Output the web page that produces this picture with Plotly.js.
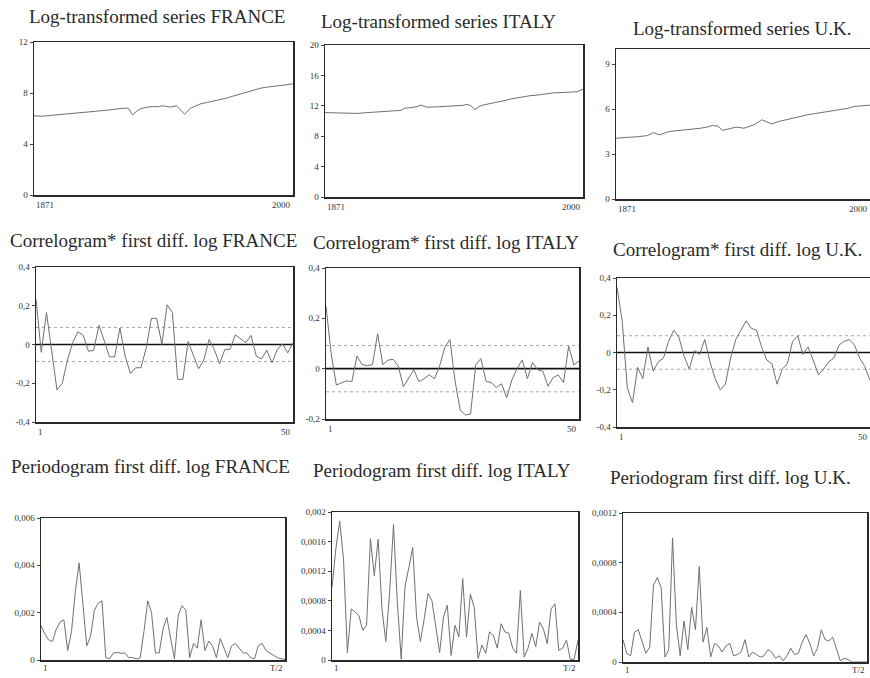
<!DOCTYPE html>
<html><head><meta charset="utf-8">
<script src="https://cdn.plot.ly/plotly-3.0.1.min.js"></script>
<style>html,body{margin:0;padding:0;background:#fff}#chart{width:870px;height:678px}</style>
</head><body><div id="chart"></div>
<script>
// ---------- DATA ----------
const countries = ['FRANCE', 'ITALY', 'U.K.'];

// Log-transformed series (year, value)
const franceYears = [1871,1875,1880,1884,1887,1892,1897,1901,1904,1908,1912,1915,1918,1920,1922,1924,1927,1930,1933,1935,1937,1939,1942,1944,1946,1949,1951,1954,1957,1960,1964,1967,1970,1974,1977,1980,1984,1987,1990,1994,1997,2000];
const franceLog   = [6.21,6.18,6.25,6.3,6.37,6.42,6.5,6.55,6.6,6.66,6.76,6.8,6.81,6.29,6.55,6.76,6.88,6.94,6.92,7.0,6.95,6.89,7.0,6.7,6.34,6.81,6.95,7.15,7.25,7.34,7.48,7.6,7.75,7.94,8.1,8.25,8.38,8.46,8.5,8.57,8.65,8.72];
const italyYears  = [1871,1876,1881,1887,1892,1897,1901,1904,1907,1909,1911,1914,1917,1919,1922,1925,1929,1933,1937,1940,1942,1944,1946,1948,1950,1954,1957,1961,1964,1967,1970,1974,1977,1981,1985,1990,1994,1997,2000];
const italyLog    = [11.1,11.05,11.0,11.0,11.1,11.2,11.25,11.3,11.35,11.4,11.7,11.75,11.9,12.1,11.8,11.85,11.9,11.95,12.0,12.05,12.2,12.0,11.5,11.9,12.1,12.3,12.4,12.7,12.9,13.05,13.2,13.35,13.4,13.55,13.7,13.75,13.8,13.85,14.2];
const ukYears     = [1871,1874,1878,1882,1887,1890,1893,1898,1902,1907,1911,1914,1918,1920,1923,1925,1929,1932,1936,1941,1945,1948,1950,1954,1958,1963,1968,1973,1978,1982,1985,1989,1992,1996,2000];
const ukLog       = [4.05,4.1,4.12,4.15,4.23,4.43,4.28,4.5,4.55,4.61,4.66,4.72,4.82,4.9,4.85,4.57,4.7,4.79,4.72,4.94,5.28,5.1,5.01,5.18,5.32,5.45,5.61,5.72,5.83,5.88,5.95,6.05,6.17,6.2,6.26];

// Correlograms, lags 1..50
const franceAcf = [0.235,-0.04,0.165,-0.05,-0.235,-0.2,-0.08,0.01,0.066,0.047,-0.035,-0.03,0.1,0.02,-0.064,-0.064,0.085,-0.06,-0.15,-0.12,-0.12,-0.02,0.135,0.135,0.0,0.205,0.165,-0.18,-0.18,0.015,-0.06,-0.125,-0.08,0.026,-0.026,-0.1,-0.026,-0.024,0.05,0.03,0.01,0.047,-0.06,-0.075,-0.03,-0.095,-0.026,0.003,-0.043,0.009];
const italyAcf  = [0.248,0.06,-0.065,-0.055,-0.048,-0.052,0.05,0.016,0.012,0.016,0.139,0.016,0.034,0.037,0.01,-0.072,-0.038,-0.004,-0.052,-0.04,-0.024,-0.04,0.01,0.084,0.116,-0.05,-0.165,-0.184,-0.18,0.016,0.04,-0.05,-0.055,-0.075,-0.06,-0.115,-0.045,0.0,0.035,-0.04,0.025,-0.005,-0.01,-0.07,-0.035,-0.025,-0.055,0.09,0.015,0.03];
const ukAcf     = [0.35,0.17,-0.19,-0.27,-0.08,-0.14,0.03,-0.1,-0.05,-0.03,0.06,0.12,0.08,-0.02,-0.09,0.01,-0.01,0.07,-0.05,-0.14,-0.2,-0.17,-0.03,0.07,0.12,0.17,0.13,0.12,0.03,-0.04,-0.06,-0.17,-0.09,-0.06,0.06,0.09,-0.01,0.03,-0.04,-0.12,-0.09,-0.05,-0.03,0.04,0.06,0.07,0.04,-0.03,-0.075,-0.15];
const confBand  = [0.088, 0.092, 0.09];   // dotted significance bands (+/-)

// Periodograms, frequencies 1..T/2
const francePer = [0.00146,0.0011,0.00085,0.00078,0.0013,0.0016,0.0017,0.0004,0.0012,0.0029,0.0041,0.0022,0.0006,0.001,0.0021,0.0024,0.0025,0.0001,0.00005,0.0003,0.00032,0.00028,0.0003,0.0001,0.0001,0.00005,0.00008,0.0012,0.0025,0.002,0.0003,0.0003,0.0013,0.0018,0.0009,0.00005,0.0019,0.0023,0.0021,0.0001,0.0007,0.0005,0.0017,0.0004,0.0008,0.0006,0.0001,0.0009,0.0005,0.0001,0.0006,0.0007,0.0005,0.0003,0.0003,0.0001,0.00005,0.0006,0.0007,0.0004,0.0003,0.0002,0.0001,0.00005,0.00003];
const italyPer  = [0.00098,0.0015,0.00188,0.00136,0.0001,0.00069,0.00065,0.0006,0.0004,0.00047,0.00164,0.00114,0.00163,0.00069,0.00025,0.00092,0.00183,0.00078,0.00001,0.001,0.00125,0.00152,0.00058,0.00025,0.00056,0.0009,0.0008,0.00042,0.0001,0.00058,0.00074,0.00006,0.00047,0.00031,0.0011,0.00031,0.00089,0.00071,0.00002,0.0002,0.00009,0.00038,0.00033,0.00016,0.00049,0.00038,0.00036,0.00016,0.00009,0.00094,0.00004,0.00016,0.00036,0.00018,0.00051,0.00042,0.00022,0.00069,0.00076,0.00013,0.00016,0.00027,0.00001,0.00001,0.00027];
const ukPer     = [0.00018,0.00007,0.00005,0.00024,0.00026,0.00017,0.00007,0.00012,0.00062,0.00068,0.0006,0.00004,0.0001,0.001,0.0003,0.00005,0.00033,0.0001,0.00044,0.00026,0.00077,0.00016,0.00028,0.00004,0.00015,0.00013,0.00008,0.00013,0.00015,0.00005,0.00006,0.00008,0.00018,0.00004,0.00008,0.00006,0.00004,0.00005,0.0001,0.00008,0.00003,0.00005,0.00001,0.00005,0.00011,0.00006,0.00007,0.00016,0.00022,0.00015,0.00005,0.00011,0.00026,0.00018,0.00017,0.0002,0.00011,0.00001,0.00003,0.00002,0,0,0,0,0];

// Tick labels
const logTicks = [[0,4,8,12],[0,4,8,12,16,20],[0,3,6,9]];
const logRanges = [[0,12],[0,20],[0,10]];
const acfTicks = [[-0.4,-0.2,0,0.2,0.4],[-0.2,0,0.2,0.4],[-0.4,-0.2,0,0.2,0.4]];
const acfText  = [['-0,4','-0,2','0','0,2','0,4'],['-0,2','0','0,2','0,4'],['-0,4','-0,2','0','0,2','0,4']];
const acfRanges = [[-0.4,0.4],[-0.2,0.4],[-0.4,0.4]];
const perTicks = [[0,0.002,0.004,0.006],[0,0.0004,0.0008,0.0012,0.0016,0.002],[0,0.0004,0.0008,0.0012]];
const perText  = [['0','0,002','0,004','0,006'],['0','0,0004','0,0008','0,0012','0,0016','0,002'],['0','0,0004','0,0008','0,0012']];
const perRanges = [[0,0.006],[0,0.002],[0,0.0012]];
const logXLabels = ['1871','2000'];
const acfXLabels = ['1','50'];
const perXLabels = ['1','T/2'];

// ---------- LAYOUT GEOMETRY (pixels) ----------
const W = 870, H = 678;
const boxes = [
  [34,293,42,195],[325,583,45,197],[616,870,49,199],
  [36,293,267,422],[326,579,268,419],[617,870,278,427],
  [41,285,518,660],[332,578,512,660],[623,867,513,662]
];
const titles = [
  ['Log-transformed series FRANCE',157,17],['Log-transformed series ITALY',438,21],['Log-transformed series U.K.',742,28],
  ['Correlogram* first diff. log FRANCE',153,240],['Correlogram* first diff. log ITALY',446,242],['Correlogram* first diff. log U.K.',737,249],
  ['Periodogram first diff. log FRANCE',150,466],['Periodogram first diff. log ITALY',442,470],['Periodogram first diff. log U.K.',730,477]
];

const SERIF = '"Liberation Serif", "Times New Roman", serif';
const lineCol = '#707070';
const tickFont = {family: SERIF, size: 9, color: '#333'};

const traces = [];
const layout = {
  width: W, height: H, margin: {l:0,r:0,t:0,b:0},
  paper_bgcolor: '#fff', plot_bgcolor: '#fff', showlegend: false,
  annotations: []
};

const logX = [franceYears, italyYears, ukYears];
const logY = [franceLog, italyLog, ukLog];
const acfY = [franceAcf, italyAcf, ukAcf];
const perY = [francePer, italyPer, ukPer];

function idx(arr){ return arr.map((_, i) => i + 1); }

for (let p = 0; p < 9; p++) {
  const n = p + 1;
  const xa = n === 1 ? 'x' : 'x' + n, ya = n === 1 ? 'y' : 'y' + n;
  const row = Math.floor(p / 3), col = p % 3;
  const b = boxes[p];
  let xr, tv, tt, yr, xl;
  if (row === 0) {
    traces.push({x: logX[col], y: logY[col], xaxis: xa, yaxis: ya, mode: 'lines', line: {color: lineCol, width: 1}});
    xr = [logX[col][0], logX[col][logX[col].length - 1]];
    tv = logTicks[col]; tt = logTicks[col].map(String); yr = logRanges[col]; xl = logXLabels;
  } else if (row === 1) {
    const lags = idx(acfY[col]);
    xr = [1, lags.length];
    traces.push({x: xr, y: [confBand[col], confBand[col]], xaxis: xa, yaxis: ya, mode: 'lines', line: {color: '#a8a8a8', width: 1, dash: 'dot'}});
    traces.push({x: xr, y: [-confBand[col], -confBand[col]], xaxis: xa, yaxis: ya, mode: 'lines', line: {color: '#a8a8a8', width: 1, dash: 'dot'}});
    traces.push({x: xr, y: [0, 0], xaxis: xa, yaxis: ya, mode: 'lines', line: {color: '#111', width: 1.6}});
    traces.push({x: lags, y: acfY[col], xaxis: xa, yaxis: ya, mode: 'lines', line: {color: lineCol, width: 1}});
    tv = acfTicks[col]; tt = acfText[col]; yr = acfRanges[col]; xl = acfXLabels;
  } else {
    const k = idx(perY[col]);
    xr = [1, k.length];
    traces.push({x: k, y: perY[col], xaxis: xa, yaxis: ya, mode: 'lines', line: {color: lineCol, width: 1}});
    tv = perTicks[col]; tt = perText[col]; yr = perRanges[col]; xl = perXLabels;
  }
  const xkey = n === 1 ? 'xaxis' : 'xaxis' + n, ykey = n === 1 ? 'yaxis' : 'yaxis' + n;
  layout[xkey] = {
    domain: [b[0] / W, b[1] / W], range: xr, anchor: ya,
    showline: true, mirror: true, linecolor: '#2a2a2a', linewidth: 1.5,
    showgrid: false, zeroline: false, showticklabels: false, ticks: '', fixedrange: true
  };
  layout[ykey] = {
    domain: [1 - b[3] / H, 1 - b[2] / H], range: yr, anchor: xa,
    showline: true, mirror: true, linecolor: '#2a2a2a', linewidth: 1.5,
    showgrid: false, zeroline: false, tickvals: tv, ticktext: tt,
    ticks: 'outside', ticklen: 3, tickcolor: '#444', tickwidth: 1,
    tickfont: tickFont, fixedrange: true
  };
  const ys = row === 2 ? -1 : -3;
  layout.annotations.push({xref: xa, yref: ya + ' domain', x: xr[0], y: 0, xanchor: 'left', yanchor: 'top', yshift: ys, text: xl[0], showarrow: false, font: tickFont});
  layout.annotations.push({xref: xa, yref: ya + ' domain', x: xr[1], y: 0, xanchor: 'right', yanchor: 'top', yshift: ys, text: xl[1], showarrow: false, font: tickFont});
  const t = titles[p];
  layout.annotations.push({xref: 'paper', yref: 'paper', x: t[1] / W, y: 1 - t[2] / H, xanchor: 'center', yanchor: 'middle', text: t[0], showarrow: false, font: {family: SERIF, size: 19, color: '#2a2a2a'}});
}

Plotly.newPlot('chart', traces, layout, {displayModeBar: false, staticPlot: true});
</script>
</body></html>
